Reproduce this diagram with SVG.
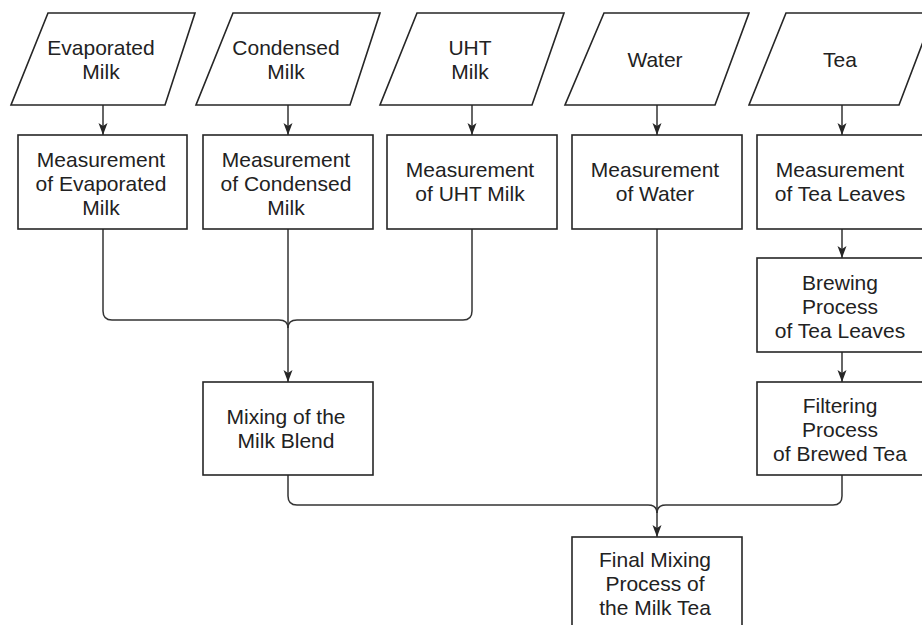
<svg xmlns="http://www.w3.org/2000/svg" width="922" height="625" viewBox="0 0 922 625">
<defs>
<style>
.shape{fill:#fff;stroke:#262626;stroke-width:1.6}
.edge{fill:none;stroke:#333;stroke-width:1.5}
.lbl{font-family:"Liberation Sans",Arial,Helvetica,sans-serif;font-size:21px;fill:#222;text-anchor:middle}
</style>
<marker id="arr" viewBox="0 0 12 10" refX="12" refY="5" markerWidth="12" markerHeight="10" markerUnits="userSpaceOnUse" orient="auto">
<path d="M0,0.5 L12,5 L0,9.5 L3,5 z" fill="#262626"/>
</marker>
</defs>
<rect width="922" height="625" fill="#fff"/>

<g id="connectors">
<path class="edge" d="M103,105 V135" marker-end="url(#arr)"/>
<path class="edge" d="M288,105 V135" marker-end="url(#arr)"/>
<path class="edge" d="M472,105 V135" marker-end="url(#arr)"/>
<path class="edge" d="M657,105 V135" marker-end="url(#arr)"/>
<path class="edge" d="M842,105 V135" marker-end="url(#arr)"/>
<path class="edge" d="M103,229 V311 Q103,320 112,320 H279 Q288,320 288,328"/>
<path class="edge" d="M472,229 V311 Q472,320 463,320 H297 Q288,320 288,328"/>
<path class="edge" d="M288,229 V382" marker-end="url(#arr)"/>
<path class="edge" d="M657,229 V537" marker-end="url(#arr)"/>
<path class="edge" d="M842,229 V258" marker-end="url(#arr)"/>
<path class="edge" d="M842,352 V382" marker-end="url(#arr)"/>
<path class="edge" d="M288,475 V496 Q288,505 297,505 H648 Q657,505 657,513"/>
<path class="edge" d="M842,475 V496 Q842,505 833,505 H666 Q657,505 657,513"/>
</g>

<g id="in-evaporated">
<polygon class="shape" points="48,13 195,13 165,105 11,105"/>
<text class="lbl" x="101" y="55">Evaporated</text>
<text class="lbl" x="101" y="79">Milk</text>
</g>
<g id="in-condensed">
<polygon class="shape" points="233,13 380,13 350,105 196,105"/>
<text class="lbl" x="286" y="55">Condensed</text>
<text class="lbl" x="286" y="79">Milk</text>
</g>
<g id="in-uht">
<polygon class="shape" points="417,13 564,13 532,105 380,105"/>
<text class="lbl" x="470" y="55">UHT</text>
<text class="lbl" x="470" y="79">Milk</text>
</g>
<g id="in-water">
<polygon class="shape" points="604,13 749,13 715,105 565,105"/>
<text class="lbl" x="655" y="67">Water</text>
</g>
<g id="in-tea">
<polygon class="shape" points="786,13 934,13 899,105 749,105"/>
<text class="lbl" x="840" y="67">Tea</text>
</g>

<g id="m-evaporated">
<rect class="shape" x="18" y="135" width="169" height="94"/>
<text class="lbl" x="101" y="167">Measurement</text>
<text class="lbl" x="101" y="191">of Evaporated</text>
<text class="lbl" x="101" y="215">Milk</text>
</g>
<g id="m-condensed">
<rect class="shape" x="203" y="135" width="170" height="94"/>
<text class="lbl" x="286" y="167">Measurement</text>
<text class="lbl" x="286" y="191">of Condensed</text>
<text class="lbl" x="286" y="215">Milk</text>
</g>
<g id="m-uht">
<rect class="shape" x="387" y="135" width="170" height="94"/>
<text class="lbl" x="470" y="177">Measurement</text>
<text class="lbl" x="470" y="201">of UHT Milk</text>
</g>
<g id="m-water">
<rect class="shape" x="572" y="135" width="170" height="94"/>
<text class="lbl" x="655" y="177">Measurement</text>
<text class="lbl" x="655" y="201">of Water</text>
</g>
<g id="m-tea">
<rect class="shape" x="757" y="135" width="170" height="94"/>
<text class="lbl" x="840" y="177">Measurement</text>
<text class="lbl" x="840" y="201">of Tea Leaves</text>
</g>

<g id="brewing">
<rect class="shape" x="757" y="258" width="170" height="94"/>
<text class="lbl" x="840" y="290">Brewing</text>
<text class="lbl" x="840" y="314">Process</text>
<text class="lbl" x="840" y="338">of Tea Leaves</text>
</g>
<g id="filtering">
<rect class="shape" x="757" y="382" width="170" height="93"/>
<text class="lbl" x="840" y="413">Filtering</text>
<text class="lbl" x="840" y="437">Process</text>
<text class="lbl" x="840" y="461">of Brewed Tea</text>
</g>
<g id="mixing">
<rect class="shape" x="203" y="382" width="170" height="93"/>
<text class="lbl" x="286" y="424">Mixing of the</text>
<text class="lbl" x="286" y="448">Milk Blend</text>
</g>
<g id="final">
<rect class="shape" x="572" y="537" width="170" height="94"/>
<text class="lbl" x="655" y="567">Final Mixing</text>
<text class="lbl" x="655" y="591">Process of</text>
<text class="lbl" x="655" y="615">the Milk Tea</text>
</g>
</svg>
